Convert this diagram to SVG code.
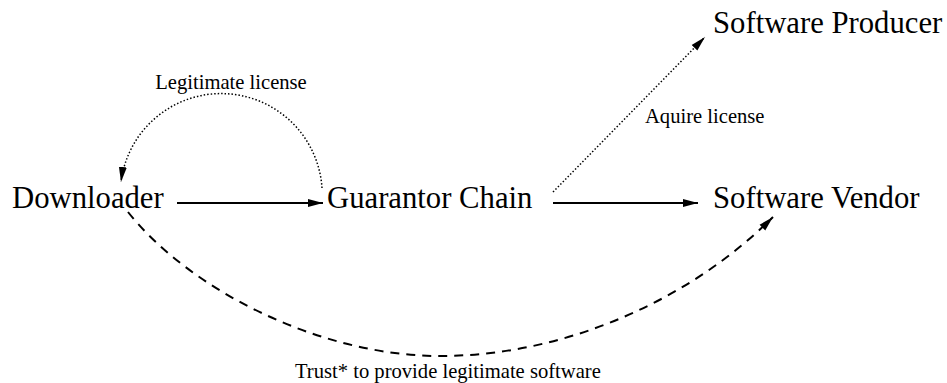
<svg xmlns="http://www.w3.org/2000/svg" width="947" height="383" viewBox="0 0 947 383">
<style>
.node{font-family:"Liberation Serif","Times New Roman",serif;font-size:30.7px;fill:#000}
.lbl{font-family:"Liberation Serif","Times New Roman",serif;font-size:20.6px;fill:#000}
.solid{fill:none;stroke:#000;stroke-width:2}
.dashed{fill:none;stroke:#000;stroke-width:2;stroke-dasharray:9 7}
.dotted{fill:none;stroke:#000;stroke-width:1.5;stroke-dasharray:1.5 2}
</style>
<defs>
<marker id="ah" markerUnits="userSpaceOnUse" markerWidth="16" markerHeight="10" refX="15" refY="4.5" orient="auto" viewBox="0 0 16 10">
<path d="M0,0.5 L15,4.5 L0,8.5 z" fill="#000"/>
</marker>
</defs>
<rect width="947" height="383" fill="#fff"/>
<g id="connectors">
<path class="solid" d="M177,203 L323,203" marker-end="url(#ah)"/>
<path class="solid" d="M553,203 L698,203" marker-end="url(#ah)"/>
<path class="dotted" d="M322,188 A101,101 0 0 0 121,182" marker-end="url(#ah)"/>
<path class="dotted" d="M553,192 L705,37" marker-end="url(#ah)"/>
<path class="dashed" d="M128,212 C190,290 320,356 440,356 C565,356 690,300 773,217" marker-end="url(#ah)"/>
<text class="lbl" x="231" y="89" text-anchor="middle">Legitimate license</text>
<text class="lbl" x="645" y="123">Aquire license</text>
<text class="lbl" x="295" y="378">Trust* to provide legitimate software</text>
</g>
<g id="downloader"><text class="node" x="12" y="208">Downloader</text></g>
<g id="guarantor"><text class="node" x="327" y="208">Guarantor Chain</text></g>
<g id="vendor"><text class="node" x="713" y="208">Software Vendor</text></g>
<g id="producer"><text class="node" x="713" y="33">Software Producer</text></g>
</svg>
